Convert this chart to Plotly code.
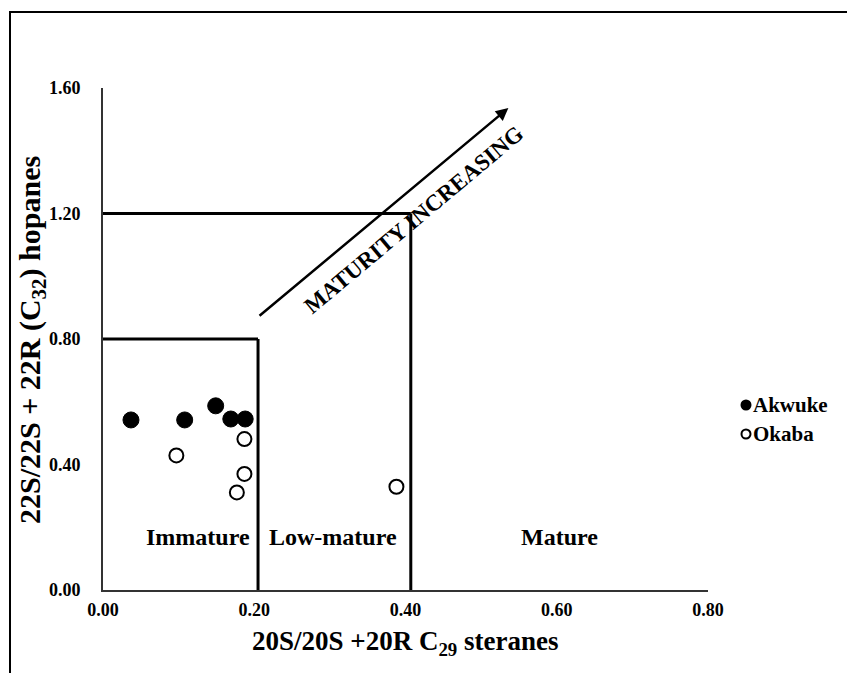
import plotly.graph_objects as go

# Akwuke samples (filled circles)
akwuke_steranes = [0.037, 0.108, 0.149, 0.169, 0.188]
akwuke_hopanes = [0.542, 0.542, 0.587, 0.545, 0.545]

# Okaba samples (open circles)
okaba_steranes = [0.187, 0.097, 0.187, 0.177, 0.388]
okaba_hopanes = [0.481, 0.429, 0.370, 0.311, 0.329]

# Maturity zone boundaries
zone_x = [0.205, 0.407]        # steranes boundary of each zone
zone_y = [0.80, 1.20]          # hopanes ceiling of each zone
zone_names = ["Immature", "Low-mature", "Mature"]
zone_label_x = [0.125, 0.304, 0.604]
zone_label_y = 0.169

# Maturity trend arrow (tail, head)
trend_x = [0.205, 0.536]
trend_y = [0.870, 1.536]

x_ticks = [0.0, 0.2, 0.4, 0.6, 0.8]
y_ticks = [0.0, 0.4, 0.8, 1.2, 1.6]

W, H = 847, 673
L, R, T, B = 103, 139, 88, 83
pw, ph = W - L - R, H - T - B

SERIF = "Liberation Serif"


def px_x(p):
    return (p - L) / pw


def px_y(p):
    return (H - B - p) / ph


fig = go.Figure()

fig.add_trace(go.Scatter(
    x=akwuke_steranes, y=akwuke_hopanes, mode="markers", name="Akwuke",
    marker=dict(symbol="circle", size=16, color="black",
                line=dict(color="black", width=1)),
    showlegend=False,
))
fig.add_trace(go.Scatter(
    x=okaba_steranes, y=okaba_hopanes, mode="markers", name="Okaba",
    marker=dict(symbol="circle", size=14, color="white",
                line=dict(color="black", width=2)),
    showlegend=False,
))

shapes = []
# zone outlines: horizontal ceiling from y-axis, then vertical drop to x-axis
for bx, by in zip(zone_x, zone_y):
    shapes.append(dict(type="line", xref="x", yref="y", x0=0, x1=bx,
                       y0=by, y1=by, line=dict(color="black", width=3)))
    shapes.append(dict(type="line", xref="x", yref="y", x0=bx, x1=bx,
                       y0=by, y1=0, line=dict(color="black", width=3)))

# outer frame (left and top edges)
shapes.append(dict(type="path", xref="paper", yref="paper",
                   path=f"M {px_x(10)} {px_y(H)} L {px_x(10)} {px_y(12)} L {px_x(W)} {px_y(12)}",
                   line=dict(color="black", width=2)))

annotations = []
for name, lx in zip(zone_names, zone_label_x):
    annotations.append(dict(x=lx, y=zone_label_y, xref="x", yref="y",
                            xanchor="center", yanchor="middle",
                            text=f"<b>{name}</b>", showarrow=False,
                            font=dict(family=SERIF, size=24, color="black")))

# maturity trend arrow
annotations.append(dict(x=trend_x[1], y=trend_y[1], ax=trend_x[0], ay=trend_y[0],
                        xref="x", yref="y", axref="x", ayref="y", text="",
                        showarrow=True, arrowhead=2, arrowsize=1, arrowwidth=2.5,
                        arrowcolor="black"))
annotations.append(dict(x=0.405, y=1.205, xref="x", yref="y",
                        xanchor="center", yanchor="middle",
                        text="<b>MATURITY INCREASING</b>", showarrow=False,
                        textangle=-40, xshift=5, yshift=-8,
                        font=dict(family=SERIF, size=23, color="black")))

# axis titles
annotations.append(dict(x=px_x(32), y=px_y(340), xref="paper", yref="paper",
                        xanchor="center", yanchor="middle",
                        text="<b>22S/22S + 22R (C<sub>32</sub>) hopanes</b>",
                        textangle=-90, showarrow=False,
                        font=dict(family=SERIF, size=30, color="black")))
annotations.append(dict(x=px_x(405), y=px_y(643), xref="paper", yref="paper",
                        xanchor="center", yanchor="middle",
                        text="<b>20S/20S +20R C<sub>29</sub> steranes</b>",
                        showarrow=False,
                        font=dict(family=SERIF, size=27, color="black")))

# legend entries
legend_rows = [("Akwuke", "black", 405), ("Okaba", "white", 434)]
for name, fill, py in legend_rows:
    shapes.append(dict(type="circle", xref="paper", yref="paper",
                       xsizemode="pixel", ysizemode="pixel",
                       xanchor=px_x(746), yanchor=px_y(py),
                       x0=-4.5, x1=4.5, y0=-4.5, y1=4.5,
                       fillcolor=fill, line=dict(color="black", width=2)))
    annotations.append(dict(x=px_x(751), y=px_y(py), xref="paper", yref="paper",
                            xanchor="left", yanchor="middle",
                            text=f"<b>{name}</b>", showarrow=False,
                            font=dict(family=SERIF, size=21, color="black")))

fig.update_layout(
    width=W, height=H,
    margin=dict(l=L, r=R, t=T, b=B),
    paper_bgcolor="white", plot_bgcolor="white",
    shapes=shapes, annotations=annotations,
    showlegend=False,
)
fig.update_xaxes(range=[0, 0.8], tickvals=x_ticks, tickformat=".2f",
                 showgrid=False, zeroline=False, showline=True,
                 linecolor="#333", linewidth=2, ticks="",
                 ticklabelstandoff=2,
                 tickfont=dict(family=SERIF, size=18, color="black", weight="bold"))
fig.update_yaxes(range=[0, 1.6], tickvals=y_ticks, tickformat=".2f",
                 showgrid=False, zeroline=False, showline=True,
                 linecolor="#333", linewidth=2, ticks="",
                 ticklabelstandoff=17,
                 tickfont=dict(family=SERIF, size=18, color="black", weight="bold"))

fig.write_html("out.html")
